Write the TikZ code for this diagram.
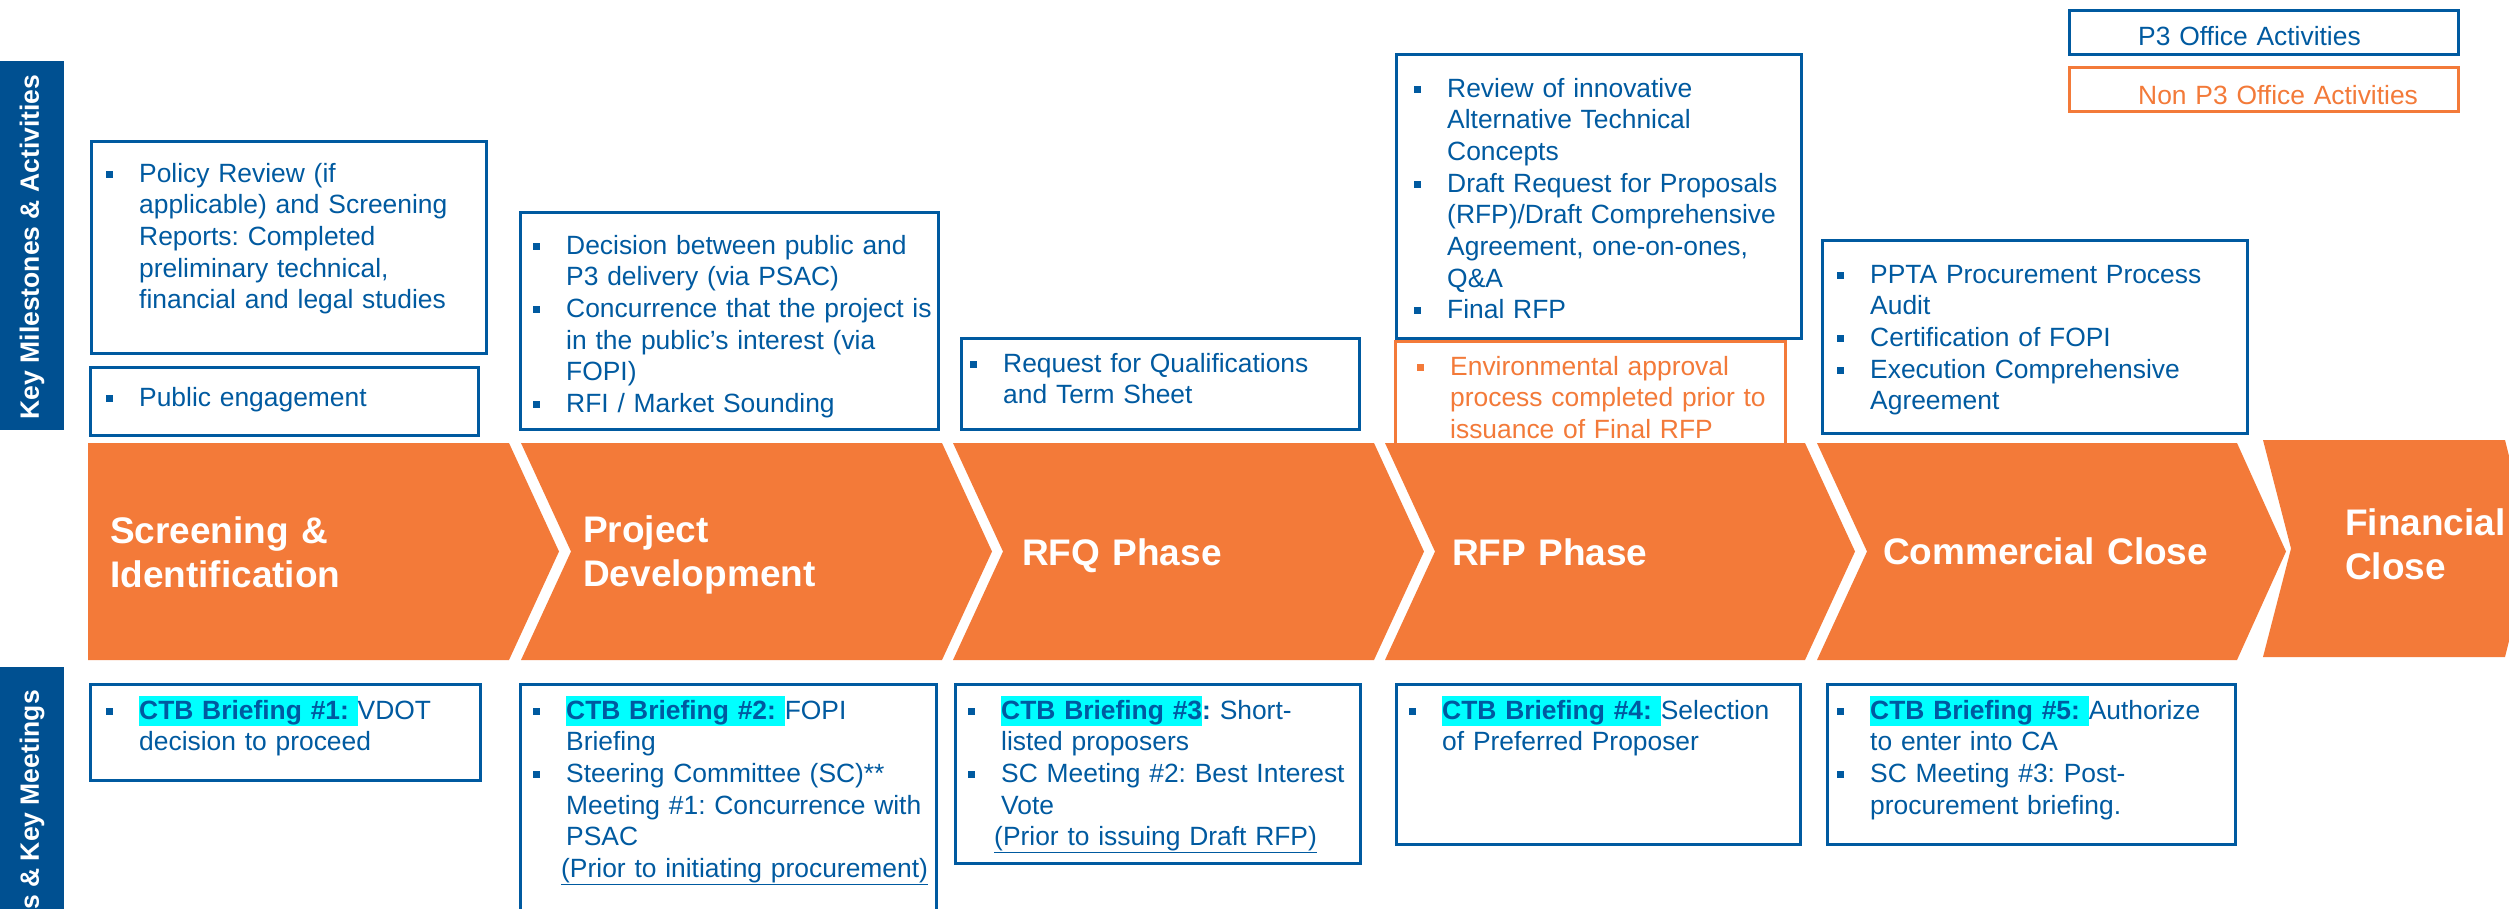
\documentclass[tikz,border=0pt]{standalone}
\usepackage{fontspec}
\setmainfont{Liberation Sans}
\definecolor{pblue}{RGB}{0,90,160}
\definecolor{pbar}{RGB}{0,80,145}
\definecolor{porange}{RGB}{243,122,57}
\definecolor{hlc}{RGB}{0,255,255}
\setlength{\parindent}{0pt}
\frenchspacing
\newcommand{\bul}{\makebox[33pt][l]{\raisebox{4.5pt}{\rule{7pt}{7pt}}}}
\newcommand{\nl}{\newline\hspace*{33pt}}
\newcommand{\hlt}[1]{{\setlength{\fboxsep}{0pt}\colorbox{hlc}{\rule[-7pt]{0pt}{30pt}\textbf{#1}}}}
\begin{document}
\begin{tikzpicture}[x=1pt,y=-1pt,
  box/.style={draw=pblue, line width=2.5pt, anchor=north west, inner sep=0pt, fill=white},
  obox/.style={box, draw=porange},
  tx/.style={anchor=base west, inner sep=0pt, text=pblue, font=\frenchspacing\fontsize{26.4}{31.7}\selectfont},
  otx/.style={tx, text=porange},
  chev/.style={fill=porange},
  clab/.style={anchor=base west, inner sep=0pt, text=white, font=\bfseries\fontsize{37}{44}\selectfont},
  bar/.style={fill=pbar, anchor=north west, inner sep=0pt, minimum width=64pt},
  bartx/.style={rotate=90, text=white, inner sep=0pt, font=\bfseries\fontsize{26.5}{30}\selectfont}
]
\useasboundingbox (0,0) rectangle (2509,908);
\clip (0,0) rectangle (2509,908);

% side bars
\node[bar, minimum height=369pt] (bartop) at (0,61) {};
\node[bar, minimum height=250pt] (barbot) at (0,667) {};
\node[bartx] (kma) at (32,247) {Key Milestones \& Activities};
\node[bartx, anchor=east] (kmt) at (32,690) {s \& Key Meetings};

% legend
\node[box, minimum width=389pt, minimum height=44pt] (legp3) at (2068,9) {};
\node[obox, minimum width=389pt, minimum height=44pt] (legnon) at (2068,66) {};
\node[tx, text width=300pt] (legp3t) at (2138,45) {P3 Office Activities};
\node[otx, text width=310pt] (legnont) at (2138,104) {Non P3 Office Activities};

% top boxes
\node[box, minimum width=395pt, minimum height=212pt] (policy) at (90,140) {};
\node[box, minimum width=388pt, minimum height=68pt] (public) at (89,366) {};
\node[box, minimum width=418pt, minimum height=217pt] (decision) at (519,211) {};
\node[box, minimum width=398pt, minimum height=91pt] (rfq) at (960,337) {};
\node[box, minimum width=405pt, minimum height=284pt] (rfp) at (1395,53) {};
\node[obox, minimum width=390pt, minimum height=103pt] (env) at (1394,340) {};
\node[box, minimum width=425pt, minimum height=193pt] (comm) at (1821,239) {};

% bottom boxes
\node[box, minimum width=390pt, minimum height=96pt] (ctb1) at (89,683) {};
\node[box, minimum width=416pt, minimum height=240pt] (ctb2) at (519,683) {};
\node[box, minimum width=405pt, minimum height=179pt] (ctb3) at (954,683) {};
\node[box, minimum width=404pt, minimum height=160pt] (ctb4) at (1395,683) {};
\node[box, minimum width=408pt, minimum height=160pt] (ctb5) at (1826,683) {};

% chevrons
\fill[chev] (88,443) -- (509,443) -- (559,551.5) -- (509,660) -- (88,660) -- cycle;
\fill[chev] (521,443) -- (942,443) -- (992,551.5) -- (942,660) -- (521,660) -- (571,551.5) -- cycle;
\fill[chev] (953,443) -- (1374,443) -- (1424,551.5) -- (1374,660) -- (953,660) -- (1003,551.5) -- cycle;
\fill[chev] (1385,443) -- (1805,443) -- (1855,551.5) -- (1805,660) -- (1385,660) -- (1435,551.5) -- cycle;
\fill[chev] (1817,443) -- (2237,443) -- (2286,551.5) -- (2237,660) -- (1817,660) -- (1867,551.5) -- cycle;
\fill[chev] (2263,440) -- (2505,440) -- (2532,548.5) -- (2505,657) -- (2263,657) -- (2291,548.5) -- cycle;

\node[clab, text width=380pt] (l1) at (110,543) {Screening \&\newline Identification};
\node[clab, text width=340pt] (l2) at (583,542) {Project\newline Development};
\node[clab, text width=330pt] (l3) at (1022,565) {RFQ Phase};
\node[clab, text width=330pt] (l4) at (1452,565) {RFP Phase};
\node[clab, text width=340pt] (l5) at (1883,564) {Commercial Close};
\node[clab, text width=164pt] (l6) at (2345,535) {Financial\newline Close};

% texts top
\node[tx, text width=377pt] (policyt) at (106,182) {\bul Policy Review (if\nl applicable) and Screening\nl Reports: Completed\nl preliminary technical,\nl financial and legal studies};
\node[tx, text width=369pt] (publict) at (106,406) {\bul Public engagement};
\node[tx, text width=402pt] (decisiont) at (533,254) {\bul Decision between public and\nl P3 delivery (via PSAC)\newline\bul Concurrence that the project is\nl in the public’s interest (via\nl FOPI)\newline\bul RFI / Market Sounding};
\node[tx, text width=386pt] (rfqt) at (970,372) {\bul Request for Qualifications\nl and Term Sheet};
\node[tx, text width=384pt] (rfpt) at (1414,97) {\bul Review of innovative\nl Alternative Technical\nl Concepts\newline\bul Draft Request for Proposals\nl (RFP)/Draft Comprehensive\nl Agreement, one-on-ones,\nl Q\&A\newline\bul Final RFP};
\node[otx, text width=365pt] (envt) at (1417,375) {\bul Environmental approval\nl process completed prior to\nl issuance of Final RFP};
\node[tx, text width=407pt] (commt) at (1837,283) {\bul PPTA Procurement Process\nl Audit\newline\bul Certification of FOPI\newline\bul Execution Comprehensive\nl Agreement};

% texts bottom
\node[tx, text width=371pt] (ctb1t) at (106,719) {\bul \hlt{CTB Briefing \#1: }VDOT\nl decision to proceed};
\node[tx, text width=400pt] (ctb2t) at (533,719) {\bul \hlt{CTB Briefing \#2: }FOPI\nl Briefing\newline\bul Steering Committee (SC)**\nl Meeting \#1: Concurrence with\nl PSAC\newline\hspace*{28pt}\underline{(Prior to initiating procurement)}};
\node[tx, text width=389pt] (ctb3t) at (968,719) {\bul \hlt{CTB Briefing \#3}\textbf{:} Short-\nl listed proposers\newline\bul SC Meeting \#2: Best Interest\nl Vote\newline\hspace*{26pt}\underline{(Prior to issuing Draft RFP)}};
\node[tx, text width=388pt] (ctb4t) at (1409,719) {\bul \hlt{CTB Briefing \#4: }Selection\nl of Preferred Proposer};
\node[tx, text width=395pt] (ctb5t) at (1837,719) {\bul \hlt{CTB Briefing \#5: }Authorize\nl to enter into CA\newline\bul SC Meeting \#3: Post-\nl procurement briefing.};
\end{tikzpicture}
\end{document}
